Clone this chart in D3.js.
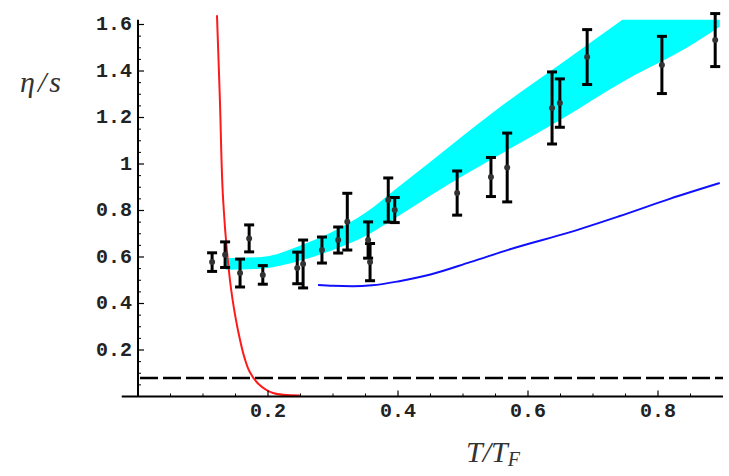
<!DOCTYPE html>
<html>
<head>
<meta charset="utf-8">
<script src="https://cdn.jsdelivr.net/npm/d3@7"></script>
<style>
  html, body { margin: 0; padding: 0; background: #fff; }
  svg { display: block; }
</style>
</head>
<body>
<svg id="chart" width="729" height="476"></svg>
<script>
// Shear viscosity to entropy ratio versus reduced temperature T/T_F

// measured points with symmetric error bars
const tData  = [0.114, 0.134, 0.157, 0.171, 0.192, 0.245, 0.254, 0.283, 0.308, 0.322, 0.354, 0.357, 0.385, 0.395, 0.491, 0.543, 0.568, 0.637, 0.649, 0.691, 0.806, 0.888];
const etaS   = [0.578, 0.610, 0.531, 0.680, 0.523, 0.553, 0.570, 0.630, 0.673, 0.752, 0.673, 0.578, 0.845, 0.802, 0.875, 0.944, 0.985, 1.241, 1.262, 1.460, 1.426, 1.533];
const etaErr = [0.040, 0.055, 0.060, 0.058, 0.040, 0.068, 0.103, 0.056, 0.056, 0.122, 0.078, 0.080, 0.095, 0.054, 0.095, 0.084, 0.148, 0.155, 0.104, 0.118, 0.123, 0.114];

// theory band (lower / upper edge)
const bandT     = [0.135, 0.19, 0.25, 0.30, 0.35, 0.40, 0.45, 0.55, 0.65, 0.75, 0.85, 0.895];
const bandLower = [0.545, 0.550, 0.585, 0.630, 0.690, 0.775, 0.865, 1.030, 1.190, 1.360, 1.510, 1.590];
const bandUpper = [0.595, 0.600, 0.650, 0.710, 0.790, 0.900, 1.010, 1.230, 1.430, 1.630, 1.830, 1.920];

// blue curve
const blueT = [0.277, 0.30, 0.33, 0.36, 0.40, 0.45, 0.511, 0.58, 0.665, 0.74, 0.818, 0.895];
const blueV = [0.480, 0.476, 0.474, 0.478, 0.495, 0.525, 0.578, 0.640, 0.707, 0.775, 0.850, 0.918];

// red curve
const redT = [0.1215, 0.126, 0.131, 0.1415, 0.150, 0.157, 0.164, 0.172, 0.185, 0.2077, 0.249];
const redV = [1.64, 1.275, 0.845, 0.50, 0.34, 0.243, 0.165, 0.105, 0.055, 0.015, 0.004];

// KSS bound 1/(4π)
const kssBound = 1 / (4 * Math.PI);

const xTicks = [0.2, 0.4, 0.6, 0.8];
const yTicks = [0.2, 0.4, 0.6, 0.8, 1, 1.2, 1.4, 1.6];

const svg = d3.select("#chart");
const x = d3.scaleLinear().domain([0, 0.9]).range([138, 723]);
const y = d3.scaleLinear().domain([0, 1.6]).range([396.5, 24.5]);

const xMin = -0.025, xMax = 0.9, yMax = 1.62;

svg.append("defs").append("clipPath").attr("id", "plotClip")
  .append("rect")
  .attr("x", x(xMin)).attr("y", y(yMax))
  .attr("width", x(xMax) - x(xMin)).attr("height", y(0) - y(yMax));

// band
const band = bandT.map((t, i) => ({ t, lo: bandLower[i], hi: bandUpper[i] }));
svg.append("path")
  .datum(band)
  .attr("clip-path", "url(#plotClip)")
  .attr("fill", "#00ffff")
  .attr("d", d3.area().x(d => x(d.t)).y0(d => y(d.lo)).y1(d => y(d.hi)).curve(d3.curveMonotoneX));

// blue curve
svg.append("path")
  .datum(blueT.map((t, i) => [t, blueV[i]]))
  .attr("fill", "none")
  .attr("stroke", "#1010ff")
  .attr("stroke-width", 2)
  .attr("d", d3.line().x(d => x(d[0])).y(d => y(d[1])).curve(d3.curveMonotoneX));

// red curve
svg.append("path")
  .datum(redT.map((t, i) => [t, redV[i]]))
  .attr("fill", "none")
  .attr("stroke", "#ff1a1a")
  .attr("stroke-width", 2)
  .attr("d", d3.line().x(d => x(d[0])).y(d => y(d[1])).curve(d3.curveCatmullRom));

// dashed bound
svg.append("line")
  .attr("x1", x(0) + 2).attr("x2", x(xMax))
  .attr("y1", y(kssBound)).attr("y2", y(kssBound))
  .attr("stroke", "#000").attr("stroke-width", 2.5)
  .attr("stroke-dasharray", "18,5");

// error bars
const pts = tData.map((t, i) => ({ t, v: etaS[i], e: etaErr[i] }));
const eb = svg.append("g").attr("stroke", "#000").attr("stroke-width", 3);
pts.forEach(d => {
  const cx = x(d.t);
  eb.append("line").attr("x1", cx).attr("x2", cx).attr("y1", y(d.v - d.e)).attr("y2", y(d.v + d.e));
  eb.append("line").attr("x1", cx - 5).attr("x2", cx + 5).attr("y1", y(d.v - d.e)).attr("y2", y(d.v - d.e));
  eb.append("line").attr("x1", cx - 5).attr("x2", cx + 5).attr("y1", y(d.v + d.e)).attr("y2", y(d.v + d.e));
});
svg.append("g").selectAll("circle").data(pts).join("circle")
  .attr("cx", d => x(d.t)).attr("cy", d => y(d.v)).attr("r", 3)
  .attr("fill", "#333");

// axes
const axG = svg.append("g").attr("stroke", "#000");
axG.append("line").attr("x1", x(xMin)).attr("x2", x(xMax)).attr("y1", y(0)).attr("y2", y(0)).attr("stroke-width", 2);
axG.append("line").attr("x1", x(0)).attr("x2", x(0)).attr("y1", y(0)).attr("y2", y(yMax)).attr("stroke-width", 2);

const minorX = d3.range(0.05, 0.9, 0.05).filter(v => Math.abs(v / 0.2 - Math.round(v / 0.2)) > 1e-6);
const minorY = d3.range(0.05, 1.62, 0.05).filter(v => Math.abs(v / 0.2 - Math.round(v / 0.2)) > 1e-6);
axG.selectAll(".mx").data(minorX).join("line")
  .attr("x1", d => x(d)).attr("x2", d => x(d)).attr("y1", y(0)).attr("y2", y(0) - 3).attr("stroke-width", 1);
axG.selectAll(".Mx").data(xTicks).join("line")
  .attr("x1", d => x(d)).attr("x2", d => x(d)).attr("y1", y(0)).attr("y2", y(0) - 6).attr("stroke-width", 1.2);
axG.selectAll(".my").data(minorY).join("line")
  .attr("x1", x(0)).attr("x2", x(0) + 3).attr("y1", d => y(d)).attr("y2", d => y(d)).attr("stroke-width", 1);
axG.selectAll(".My").data(yTicks).join("line")
  .attr("x1", x(0)).attr("x2", x(0) + 6).attr("y1", d => y(d)).attr("y2", d => y(d)).attr("stroke-width", 1.2);

const fmt = d => String(d);
svg.append("g").selectAll("text").data(xTicks).join("text")
  .attr("x", d => x(d)).attr("y", y(0) + 15)
  .attr("text-anchor", "middle").attr("dominant-baseline", "central")
  .attr("font-family", "Liberation Mono, Courier New, monospace")
  .attr("font-size", 20).attr("font-weight", "bold")
  .attr("fill", "#222")
  .text(fmt);
svg.append("g").selectAll("text").data(yTicks).join("text")
  .attr("x", x(0) - 6).attr("y", d => y(d))
  .attr("text-anchor", "end").attr("dominant-baseline", "central")
  .attr("font-family", "Liberation Mono, Courier New, monospace")
  .attr("font-size", 20).attr("font-weight", "bold")
  .attr("fill", "#222")
  .text(fmt);

// axis labels
svg.append("text")
  .attr("x", 20).attr("y", 92)
  .attr("font-family", "Liberation Serif, Times New Roman, serif")
  .attr("font-style", "italic").attr("font-size", 30)
  .attr("letter-spacing", 3).attr("fill", "#333")
  .text("η/s");

const xl = svg.append("text")
  .attr("x", 466).attr("y", 462)
  .attr("font-family", "Liberation Serif, Times New Roman, serif")
  .attr("font-style", "italic").attr("font-size", 30)
  .attr("fill", "#333");
xl.append("tspan").text("T/T");
xl.append("tspan").attr("font-size", 20).attr("dy", 4).text("F");
</script>
</body>
</html>
